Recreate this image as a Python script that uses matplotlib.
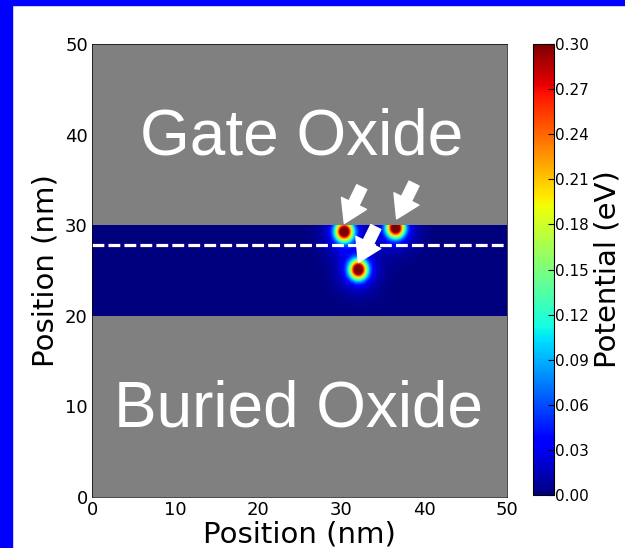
import numpy as np
import matplotlib
matplotlib.use('Agg')
import matplotlib.pyplot as plt
import matplotlib.patches as mpatches

# dopant positions (nm) and peak potential (eV)
dopant_x = [30.4, 36.6, 32.1]
dopant_y = [29.3, 29.7, 25.1]
dopant_peak = [0.33, 0.33, 0.33]

# arrows: tip and tail in nm
arrow_tip = [(30.4, 30.2), (36.7, 30.7), (32.1, 25.9)]
arrow_tail = [(32.5, 34.2), (38.8, 34.6), (34.2, 29.8)]

channel_lo, channel_hi = 20, 30
cut_y = 27.8
cbar_ticks = [0.00, 0.03, 0.06, 0.09, 0.12, 0.15, 0.18, 0.21, 0.24, 0.27, 0.30]

# potential map inside the silicon layer
xs = np.linspace(0, 50, 600)
ys = np.linspace(channel_lo, channel_hi, 200)
X, Y = np.meshgrid(xs, ys)
pot = np.zeros_like(X)
for x0, y0, a in zip(dopant_x, dopant_y, dopant_peak):
    r2 = (X - x0)**2 + (Y - y0)**2
    pot += a * np.exp(-r2 / (2 * 0.72**2)) + 0.04 * np.exp(-r2 / (2 * 1.7**2))

fig = plt.figure(figsize=(6.25, 5.48), dpi=100)
fig.patch.set_facecolor('white')
fig.add_artist(mpatches.Rectangle((0, 0), 12/625, 1, transform=fig.transFigure, color='#0000ff', zorder=0))
fig.add_artist(mpatches.Rectangle((0, 1 - 5/548), 1, 5/548, transform=fig.transFigure, color='#0000ff', zorder=0))

ax = fig.add_axes([92/625, 1 - 497/548, 415/625, 453/548])
ax.set_facecolor('#808080')
im = ax.imshow(pot, extent=[0, 50, channel_lo, channel_hi], origin='lower',
               cmap='jet', vmin=0, vmax=0.3, aspect='auto', interpolation='bilinear')
ax.set_xlim(0, 50)
ax.set_ylim(0, 50)
ax.plot([0, 50], [cut_y, cut_y], color='white', lw=2.3, linestyle=(0, (3.7, 1.3)))

for tip, tail in zip(arrow_tip, arrow_tail):
    ax.annotate('', xy=tip, xytext=tail,
                arrowprops=dict(facecolor='white', edgecolor='white', width=8,
                                headwidth=20, headlength=16, shrink=0))

ax.text(25.2, 37.75, 'Gate Oxide', color='white', fontsize=46, ha='center', va='baseline',
        family='Liberation Sans')
ax.text(24.9, 7.76, 'Buried Oxide', color='white', fontsize=46, ha='center', va='baseline',
        family='Liberation Sans')

ax.set_xticks([0, 10, 20, 30, 40, 50])
ax.set_yticks([0, 10, 20, 30, 40, 50])
ax.tick_params(length=0, labelsize=13)
ax.tick_params(axis='x', pad=3)
ax.tick_params(axis='y', pad=3)
for s in ax.spines.values():
    s.set_linewidth(0.5)
ax.set_xlabel('Position (nm)', fontsize=21, labelpad=1)
ax.set_ylabel('Position (nm)', fontsize=21, labelpad=4)

cax = fig.add_axes([533/625, 1 - 495/548, 21/625, 451/548])
cb = fig.colorbar(im, cax=cax, ticks=cbar_ticks)
cb.ax.set_yticklabels(['%.2f' % t for t in cbar_ticks])
cb.ax.tick_params(direction='in', length=4, width=0.8, labelsize=11, pad=1)
cb.outline.set_linewidth(0.8)
cb.set_label('Potential (eV)', fontsize=21, labelpad=3)

fig.savefig('out.png', dpi=100, facecolor=fig.get_facecolor())
